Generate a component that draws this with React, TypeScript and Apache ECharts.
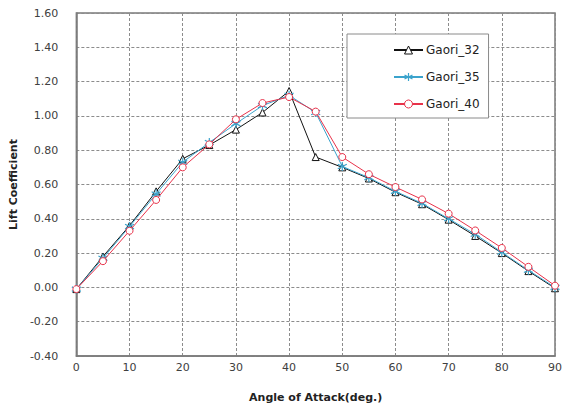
import React, { useEffect, useRef } from "react";
import * as echarts from "echarts";

const angles = [0, 5, 10, 15, 20, 25, 30, 35, 40, 45, 50, 55, 60, 65, 70, 75, 80, 85, 90];
const gaori32 = [-0.01, 0.18, 0.36, 0.56, 0.75, 0.83, 0.92, 1.02, 1.145, 0.76, 0.70, 0.635, 0.555, 0.485, 0.395, 0.30, 0.20, 0.095, -0.005];
const gaori35 = [-0.01, 0.17, 0.355, 0.545, 0.73, 0.845, 0.955, 1.06, 1.12, 1.02, 0.705, 0.64, 0.56, 0.49, 0.40, 0.31, 0.205, 0.10, 0.0];
const gaori40 = [-0.01, 0.153, 0.33, 0.51, 0.70, 0.834, 0.98, 1.075, 1.11, 1.025, 0.76, 0.66, 0.585, 0.513, 0.43, 0.332, 0.23, 0.12, 0.01];
const seriesNames = ["Gaori_32", "Gaori_35", "Gaori_40"];

const starPath = "path://M5 0 L5 10 M0.67 2.5 L9.33 7.5 M0.67 7.5 L9.33 2.5";

export default function App() {
  const ref = useRef<HTMLDivElement>(null);
  useEffect(() => {
    document.body.style.margin = "0";
    if (!ref.current) return;
    const chart = echarts.init(ref.current, null, { renderer: "svg" });
    const toPts = (arr: number[]) => angles.map((a, i) => [a, arr[i]]);
    chart.setOption({
      animation: false,
      backgroundColor: "#ffffff",
      textStyle: { fontFamily: "DejaVu Sans" },
      grid: {
        left: 76,
        right: 6,
        top: 13,
        bottom: 53,
        show: true,
        borderColor: "#7a7a7a",
        borderWidth: 1.5,
        backgroundColor: "transparent",
      },
      legend: {
        orient: "vertical",
        left: 347,
        top: 34,
        padding: [10, 9, 8, 46],
        itemGap: 15,
        itemWidth: 29,
        itemHeight: 10,
        backgroundColor: "#ffffff",
        borderColor: "#8a8a8a",
        borderWidth: 1,
        borderRadius: 0,
        textStyle: { fontSize: 12, color: "#222", fontFamily: "DejaVu Sans", padding: [0, 0, 0, -2] },
        data: [
          { name: seriesNames[0], itemStyle: { borderWidth: 1 } },
          { name: seriesNames[1], itemStyle: { borderWidth: 1.2 } },
          { name: seriesNames[2], itemStyle: { borderWidth: 1 } },
        ],
      },
      xAxis: {
        type: "value",
        min: 0,
        max: 90,
        interval: 10,
        name: "Angle of Attack(deg.)",
        nameLocation: "middle",
        nameGap: 36,
        nameTextStyle: { fontSize: 11, fontWeight: "bold", color: "#222", fontFamily: "DejaVu Sans" },
        axisLine: { show: true, onZero: false, lineStyle: { color: "#7a7a7a", width: 1.5 } },
        axisTick: { show: false },
        axisLabel: { fontSize: 11, color: "#404040", margin: 6 },
        splitLine: { show: true, lineStyle: { color: "#8c8c8c", type: [3, 2], width: 1 } },
      },
      yAxis: {
        type: "value",
        min: -0.4,
        max: 1.6,
        interval: 0.2,
        name: "Lift Coefficient",
        nameLocation: "middle",
        nameGap: 55,
        nameTextStyle: { fontSize: 11, fontWeight: "bold", color: "#222", fontFamily: "DejaVu Sans" },
        axisLine: { show: true, onZero: false, lineStyle: { color: "#7a7a7a", width: 1.5 } },
        axisTick: { show: false },
        axisLabel: { fontSize: 11, color: "#404040", margin: 18, formatter: (v: number) => v.toFixed(2) },
        splitLine: { show: true, lineStyle: { color: "#8c8c8c", type: [3, 2], width: 1 } },
      },
      series: [
        {
          name: seriesNames[0],
          type: "line",
          data: toPts(gaori32),
          symbol: "triangle",
          symbolSize: 7,
          lineStyle: { color: "#111111", width: 1 },
          itemStyle: { color: "#ffffff", borderColor: "#111111", borderWidth: 1 },
          z: 2,
        },
        {
          name: seriesNames[1],
          type: "line",
          data: toPts(gaori35),
          symbol: starPath,
          symbolSize: 9,
          lineStyle: { color: "#3ba3cc", width: 1 },
          itemStyle: { color: "#3ba3cc", borderColor: "#3ba3cc", borderWidth: 1.2 },
          z: 3,
        },
        {
          name: seriesNames[2],
          type: "line",
          data: toPts(gaori40),
          symbol: "circle",
          symbolSize: 7,
          lineStyle: { color: "#e8324a", width: 1 },
          itemStyle: { color: "#ffffff", borderColor: "#e8324a", borderWidth: 1 },
          z: 4,
        },
      ],
    });
    return () => chart.dispose();
  }, []);
  return <div ref={ref} style={{ width: 565, height: 409 }} />;
}
